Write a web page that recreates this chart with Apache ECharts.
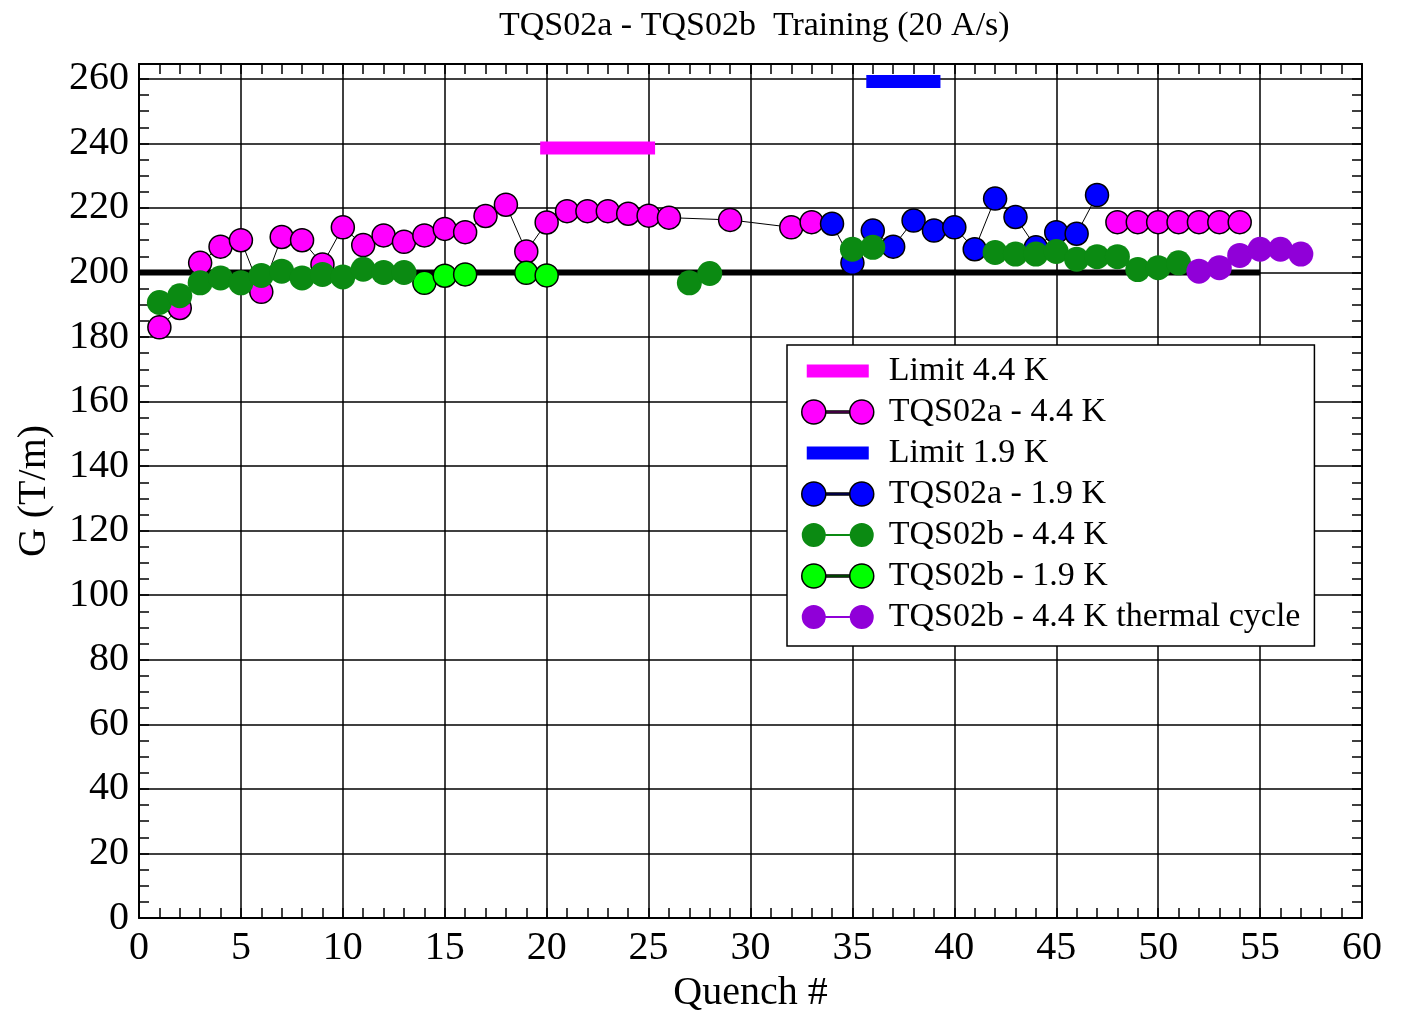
<!DOCTYPE html>
<html>
<head>
<meta charset="utf-8">
<script src="https://cdn.jsdelivr.net/npm/echarts@6/dist/echarts.min.js"></script>
<style>
html,body{margin:0;padding:0;background:#fff;}
#chart{width:1403px;height:1014px;}
</style>
</head>
<body>
<div id="chart"></div>
<script>
// ---------- data ----------
const titleText = 'TQS02a - TQS02b  Training (20 A/s)';
const xName = 'Quench #';
const yName = 'G (T/m)';

const limit44Q = [20, 25];
const limit44G = [238.6, 238.6];
const limit19Q = [36, 39];
const limit19G = [259.2, 259.2];
const ref200Q = [0, 55];
const ref200G = [200, 200];

// TQS02a - 4.4 K (null = break in line)
const a44Q = [1,2,3,4,5,6,7,8,9,10,11,12,13,14,15,16,17,18,19,20,21,22,23,24,25,26,29,32,33,null,48,49,50,51,52,53,54];
const a44G = [183,189,203,208,210,194,211,210,202.5,214,208.5,211.5,209.5,211.5,213.5,212.5,217.5,221,206.5,215.5,219,219,219,218.2,217.6,217,216.3,214,215.6,null,215.6,215.6,215.6,215.6,215.6,215.6,215.6];

// TQS02a - 1.9 K
const a19Q = [34,35,36,37,38,39,40,41,42,43,44,45,46,47];
const a19G = [215.1,203,213,208,216.1,213,214,207.2,222.9,217.2,207.8,212.5,212,224];

// TQS02b - 4.4 K
const b44Q = [1,2,3,4,5,6,7,8,9,10,11,12,13,null,27,28,null,35,36,null,42,43,44,45,46,47,48,49,50,51];
const b44G = [190.7,192.8,196.8,198.3,196.8,199.1,200.4,198.3,199.4,198.6,201,200,200,null,196.8,199.7,null,207.2,207.8,null,206.2,205.7,205.7,206.5,204.1,204.9,204.9,200.9,201.5,203];

// TQS02b - 1.9 K
const b19Q = [14,15,16,null,19,20];
const b19G = [196.8,199,199.4,null,199.9,199.1];

// TQS02b - 4.4 K thermal cycle
const btcQ = [52,53,54,55,56,57];
const btcG = [200.4,201.5,205.3,207.2,207.2,205.7];

const xTickValues = [0,5,10,15,20,25,30,35,40,45,50,55,60];
const yTickLabels = [0,20,40,60,80,100,120,140,160,180,200,220,240,260];

const seriesNames = ['Limit 4.4 K','TQS02a - 4.4 K','Limit 1.9 K','TQS02a - 1.9 K','TQS02b - 4.4 K','TQS02b - 1.9 K','TQS02b - 4.4 K thermal cycle'];

// ---------- helpers ----------
function pairs(q, g){ return q.map((x,i)=> (x==null||g[i]==null) ? ['-','-'] : [x, g[i]]); }
const FONT = "'Liberation Serif','Times New Roman',serif";
const MAG = '#ff00ff', BLUE = '#0000ff', DGREEN = '#0b8a12', LGREEN = '#00ff00', PURP = '#9000d8';
const yMinor = [];
for (let v = 0; v <= 260; v += 5) yMinor.push(v);

const twoDots = 'path://M0,12A12,12,0,1,1,24,12A12,12,0,1,1,0,12Z M48,12A12,12,0,1,1,72,12A12,12,0,1,1,48,12Z M24,11L48,11L48,13L24,13Z';
const barIcon = 'path://M0,0L0,0Z M72,24L72,24Z M5,5.5L67,5.5L67,18.5L5,18.5Z';

const chart = echarts.init(document.getElementById('chart'), null, {renderer:'canvas'});

const yMax = 264.6;
const axisCommonY = {type:'value', min:0, max:yMax, gridIndex:0};

const option = {
  animation:false,
  backgroundColor:'#fff',
  title:{
    text:titleText, left:494, top:4,
    textStyle:{fontFamily:FONT, fontSize:34, fontWeight:'normal', color:'#000'}
  },
  grid:{left:139, right:41, top:64, bottom:96, containLabel:false, outerBoundsMode:'none'},
  legend:{
    orient:'vertical', left:787, top:345,
    padding:[9,14,12,14],
    itemWidth:72, itemHeight:24, itemGap:7,
    backgroundColor:'#fff', borderColor:'#000', borderWidth:1.5, borderRadius:0,
    textStyle:{fontFamily:FONT, fontSize:34, color:'#000', lineHeight:34, padding:[0,0,0,10]},
    selectedMode:false,
    data:[
      {name:seriesNames[0], icon:barIcon, itemStyle:{color:MAG, borderWidth:0}},
      {name:seriesNames[1], icon:twoDots, itemStyle:{color:MAG, borderColor:'#000', borderWidth:1.5}},
      {name:seriesNames[2], icon:barIcon, itemStyle:{color:BLUE, borderWidth:0}},
      {name:seriesNames[3], icon:twoDots, itemStyle:{color:BLUE, borderColor:'#000', borderWidth:1.5}},
      {name:seriesNames[4], icon:twoDots, itemStyle:{color:DGREEN, borderWidth:0}},
      {name:seriesNames[5], icon:twoDots, itemStyle:{color:LGREEN, borderColor:'#000', borderWidth:1.5}},
      {name:seriesNames[6], icon:twoDots, itemStyle:{color:PURP, borderWidth:0}}
    ]
  },
  xAxis:[
    {type:'value', min:0, max:60, interval:5, position:'bottom',
     name:xName, nameLocation:'middle', nameGap:55,
     nameTextStyle:{fontFamily:FONT, fontSize:40, color:'#000'},
     axisLine:{show:true, onZero:false, lineStyle:{color:'#000', width:2}},
     axisTick:{show:true, inside:true, length:10, lineStyle:{color:'#000', width:1.5}},
     minorTick:{show:true, splitNumber:5, length:10, lineStyle:{color:'#000', width:1.5}},
     splitLine:{show:true, lineStyle:{color:'#000', width:1.5}},
     axisLabel:{fontFamily:FONT, fontSize:40, color:'#000', margin:10,
       customValues:xTickValues}},
    {type:'value', min:0, max:60, interval:5, position:'top',
     axisLine:{show:true, onZero:false, lineStyle:{color:'#000', width:2}},
     axisTick:{show:true, inside:true, length:10, lineStyle:{color:'#000', width:1.5}},
     minorTick:{show:true, splitNumber:5, length:10, lineStyle:{color:'#000', width:1.5}},
     splitLine:{show:false}, axisLabel:{show:false}}
  ],
  yAxis:[
    Object.assign({}, axisCommonY, {position:'left', interval:20,
     name:yName, nameLocation:'middle', nameGap:85, nameRotate:90,
     nameTextStyle:{fontFamily:FONT, fontSize:40, color:'#000'},
     axisLine:{show:true, onZero:false, lineStyle:{color:'#000', width:2}},
     axisTick:{show:false},
     splitLine:{show:true, lineStyle:{color:'#000', width:1.5}},
     axisLabel:{fontFamily:FONT, fontSize:40, color:'#000', margin:10, showMaxLabel:false,
       formatter:(v)=> yTickLabels.indexOf(v) >= 0 ? String(v) : ''}}),
    Object.assign({}, axisCommonY, {position:'left', interval:20,
     axisLine:{show:false},
     axisTick:{show:true, inside:true, length:10, customValues:yMinor, lineStyle:{color:'#000', width:1.5}},
     splitLine:{show:false}, axisLabel:{show:false}}),
    Object.assign({}, axisCommonY, {position:'right', interval:20,
     axisLine:{show:true, onZero:false, lineStyle:{color:'#000', width:2}},
     axisTick:{show:true, inside:true, length:10, customValues:yMinor, lineStyle:{color:'#000', width:1.5}},
     splitLine:{show:false}, axisLabel:{show:false}})
  ],
  series:[
    {name:'ref200', type:'line', data:pairs(ref200Q, ref200G), symbol:'none', silent:true,
     lineStyle:{color:'#000', width:6}, z:2},
    {name:seriesNames[0], type:'line', data:pairs(limit44Q, limit44G), symbol:'none',
     itemStyle:{color:MAG}, lineStyle:{color:MAG, width:13, cap:'square'}, z:2},
    {name:seriesNames[2], type:'line', data:pairs(limit19Q, limit19G), symbol:'none',
     itemStyle:{color:BLUE}, lineStyle:{color:BLUE, width:13, cap:'square'}, z:2},
    {name:seriesNames[1], type:'line', data:pairs(a44Q, a44G), symbol:'circle', symbolSize:23,
     connectNulls:false,
     itemStyle:{color:MAG, borderColor:'#000', borderWidth:1.5},
     lineStyle:{color:'#000', width:1}, z:3},
    {name:seriesNames[3], type:'line', data:pairs(a19Q, a19G), symbol:'circle', symbolSize:23,
     itemStyle:{color:BLUE, borderColor:'#000', borderWidth:1.5},
     lineStyle:{color:'#000', width:1}, z:3},
    {name:seriesNames[5], type:'line', data:pairs(b19Q, b19G), symbol:'circle', symbolSize:23,
     connectNulls:false,
     itemStyle:{color:LGREEN, borderColor:'#000', borderWidth:1.5},
     lineStyle:{color:'#00c000', width:1}, z:3},
    {name:seriesNames[4], type:'line', data:pairs(b44Q, b44G), symbol:'circle', symbolSize:25,
     connectNulls:false,
     itemStyle:{color:DGREEN, borderWidth:0},
     lineStyle:{color:DGREEN, width:1}, z:3},
    {name:seriesNames[6], type:'line', data:pairs(btcQ, btcG), symbol:'circle', symbolSize:25,
     itemStyle:{color:PURP, borderWidth:0},
     lineStyle:{color:PURP, width:1}, z:3}
  ]
};
chart.setOption(option);
</script>
</body>
</html>
